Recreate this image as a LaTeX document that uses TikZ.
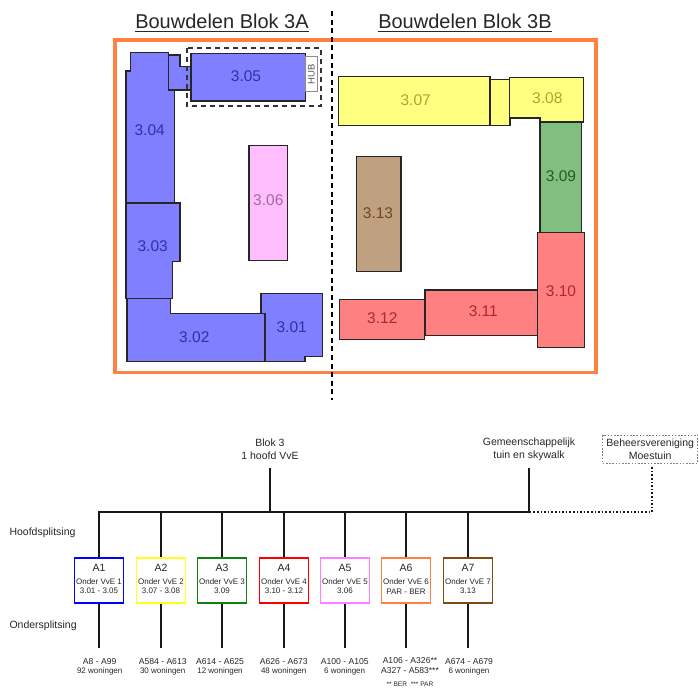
\documentclass[tikz,border=0pt]{standalone}
\usepackage{fontspec}
\setmainfont{Liberation Sans}
\usepackage{xcolor}
\usepackage{tikz}
\usetikzlibrary{positioning}
\definecolor{blokframe}{HTML}{FF8040}
\definecolor{bluefill}{HTML}{7F7FFF}
\definecolor{bluetext}{HTML}{3030A8}
\definecolor{yellowfill}{HTML}{FFFF80}
\definecolor{yellowtext}{HTML}{A8A830}
\definecolor{pinkfill}{HTML}{FFBFFF}
\definecolor{pinktext}{HTML}{A868A8}
\definecolor{greenfill}{HTML}{80BF80}
\definecolor{greentext}{HTML}{1F5F1F}
\definecolor{redfill}{HTML}{FF8080}
\definecolor{redtext}{HTML}{B02828}
\definecolor{brownfill}{HTML}{BFA080}
\definecolor{browntext}{HTML}{704818}
\definecolor{boxyellow}{HTML}{FFFF20}
\definecolor{boxgreen}{HTML}{108010}
\definecolor{boxpink}{HTML}{FF80FF}
\definecolor{boxbrown}{HTML}{804A14}
\definecolor{treetext}{HTML}{262626}
\tikzset{
  part/.style    = {draw=black!85, line width=1.2pt, line join=miter},
  partnr/.style  = {inner sep=0pt, font=\fontsize{15.5}{18}\selectfont},
  blokkop/.style = {inner sep=0pt, font=\fontsize{20}{22}\selectfont, text=black!85},
  treelab/.style = {inner sep=0pt, align=center, text=treetext, font=\fontsize{10.5}{12.7}\selectfont, minimum height=36pt},
  sidelab/.style = {inner sep=0pt, anchor=west, text=treetext, font=\fontsize{10.5}{12.7}\selectfont},
  vve/.style     = {draw, line width=1.7pt, minimum width=49pt, minimum height=45.5pt, inner sep=0pt},
  vvelab/.style  = {inner sep=0pt, align=center, text=treetext, font=\fontsize{8}{9.4}\selectfont},
  vvekop/.style  = {inner sep=0pt, text=treetext, font=\fontsize{10.5}{12}\selectfont},
  woning/.style  = {inner sep=0pt, align=center, text=treetext, font=\fontsize{8.6}{9.4}\selectfont},
  tak/.style     = {line width=1.5pt, black!90},
}
\begin{document}
\begin{tikzpicture}[x=1pt, y=-1pt]
  \useasboundingbox (0,0) rectangle (699,688);

  % Titles
  \node[blokkop] (kopA) at (222,21.5) {Bouwdelen Blok 3A};
  \node[blokkop] (kopB) at (465,21.5) {Bouwdelen Blok 3B};
  \draw[line width=1pt, black!85] (kopA.west |- 0,31.5) -- (kopA.east |- 0,31.5);
  \draw[line width=1pt, black!85] (kopB.west |- 0,31.5) -- (kopB.east |- 0,31.5);

  % Frame and divider
  \draw[blokframe, line width=3.4pt] (115,40) rectangle (596,372.7);
  \draw[black, line width=2pt, dash pattern=on 5pt off 3.6pt] (331.5,11) -- (331.5,400);

  % Blok 3A
  \draw[part, fill=bluefill] (126,71) -- (130.7,71) -- (130.7,52.7) -- (168.3,52.7) -- (168.3,90) -- (174.3,90) -- (174.3,203) -- (126,203) -- cycle;
  \draw[part, fill=bluefill] (168.3,55) -- (180,55) -- (180,66.7) -- (191,66.7) -- (191,90) -- (168.3,90) -- cycle;
  \draw[part, fill=bluefill] (191,53.3) rectangle (305.7,101);
  \draw[draw=black!45, line width=1pt, fill=white] (305.7,56.7) rectangle (317,91);
  \node[inner sep=0pt, rotate=90, text=black!65, font=\fontsize{9.5}{10}\selectfont] (hub) at (311.3,74) {HUB};
  \draw[black!80, line width=1.8pt, dash pattern=on 5.5pt off 3.5pt] (186.7,47.7) rectangle (321,105.7);
  \draw[part, fill=pinkfill] (249,145.7) rectangle (287.7,260.7);
  \draw[part, fill=bluefill] (126,203) -- (180,203) -- (180,261.3) -- (172.7,261.3) -- (172.7,298.3) -- (126,298.3) -- cycle;
  \draw[part, fill=bluefill] (261,293.3) -- (322.7,293.3) -- (322.7,356.3) -- (305,356.3) -- (305,361.7) -- (261,361.7) -- cycle;
  \draw[part, fill=bluefill] (127,298.3) -- (170.7,298.3) -- (170.7,313.7) -- (265,313.7) -- (265,361.7) -- (127,361.7) -- cycle;

  \node[partnr, text=bluetext] (nr01) at (291.7,326.7) {3.01};
  \node[partnr, text=bluetext] (nr02) at (194.3,336.7) {3.02};
  \node[partnr, text=bluetext] (nr03) at (152.7,245.7) {3.03};
  \node[partnr, text=bluetext] (nr04) at (149.7,130) {3.04};
  \node[partnr, text=bluetext] (nr05) at (246,76) {3.05};
  \node[partnr, text=pinktext] (nr06) at (268.3,200) {3.06};

  % Blok 3B
  \draw[part, fill=yellowfill] (490,79.3) rectangle (510,125.3);
  \draw[part, fill=yellowfill] (338.3,76.7) rectangle (490,125.3);
  \draw[part, fill=greenfill] (540,122) rectangle (581.7,232.7);
  \draw[part, fill=yellowfill] (509.3,77.3) -- (583.7,77.3) -- (583.7,122) -- (540,122) -- (540,118) -- (509.3,118) -- cycle;
  \draw[part, fill=brownfill] (356.7,156.7) rectangle (401,271.3);
  \draw[part, fill=redfill] (425,290) rectangle (537.3,335.3);
  \draw[part, fill=redfill] (339.3,299.3) rectangle (424.7,339.3);
  \draw[part, fill=redfill] (537.3,232.7) rectangle (584.7,347.3);

  \node[partnr, text=yellowtext] (nr07) at (415.7,100) {3.07};
  \node[partnr, text=yellowtext] (nr08) at (547.3,97.7) {3.08};
  \node[partnr, text=greentext] (nr09) at (561,176) {3.09};
  \node[partnr, text=redtext] (nr10) at (561,290.7) {3.10};
  \node[partnr, text=redtext] (nr11) at (483.3,311) {3.11};
  \node[partnr, text=redtext] (nr12) at (382.3,318.3) {3.12};
  \node[partnr, text=browntext] (nr13) at (378,213.3) {3.13};

  % Top of the tree
  \node[treelab] (blok) at (270,449.3) {Blok 3\\1 hoofd VvE};
  \node[treelab] (tuin) at (529,449.3) {Gemeenschappelijk\\tuin en skywalk};
  \node[treelab, draw=black!50, dash pattern=on 1.6pt off 1.6pt, line width=0.8pt, minimum width=95pt, minimum height=27.7pt] (moes) at (650.2,449.2) {Beheersvereniging\\Moestuin};
  \coordinate (busL) at (98.3,512);
  \coordinate (busB) at (270,512);
  \coordinate (busR) at (529.7,512);
  \coordinate (busM) at (652,512);
  \coordinate (moesvoet) at (652,467.3);

  \node[sidelab] (hoofd) at (9.3,533) {Hoofdsplitsing};
  \node[sidelab] (onder) at (9.3,626) {Ondersplitsing};

  % Onder VvE boxes
  \node[vve, draw=blue] (a1) at (99,580.5) {};
  \node[vve, draw=boxyellow] (a2) at (161,580.5) {};
  \node[vve, draw=boxgreen] (a3) at (222,580.5) {};
  \node[vve, draw=red] (a4) at (284,580.5) {};
  \node[vve, draw=boxpink] (a5) at (345,580.5) {};
  \node[vve, draw=blokframe] (a6) at (406,580.5) {};
  \node[vve, draw=boxbrown] (a7) at (468,580.5) {};

  \node[vvekop] (k1) at (99,568.3) {A1};
  \node[vvekop] (k2) at (161,568.3) {A2};
  \node[vvekop] (k3) at (222,568.3) {A3};
  \node[vvekop] (k4) at (284,568.3) {A4};
  \node[vvekop] (k5) at (345,568.3) {A5};
  \node[vvekop] (k6) at (406,568.3) {A6};
  \node[vvekop] (k7) at (468,568.3) {A7};

  \node[vvelab] (t1) at (99,586.4) {Onder VvE 1\\3.01 - 3.05};
  \node[vvelab] (t2) at (161,586.4) {Onder VvE 2\\3.07 - 3.08};
  \node[vvelab] (t3) at (222,586.4) {Onder VvE 3\\3.09};
  \node[vvelab] (t4) at (284,586.4) {Onder VvE 4\\3.10 - 3.12};
  \node[vvelab] (t5) at (345,586.4) {Onder VvE 5\\3.06};
  \node[vvelab] (t6) at (406,586.4) {Onder VvE 6\\PAR - BER};
  \node[vvelab] (t7) at (468,586.4) {Onder VvE 7\\3.13};

  % Ondersplitsing
  \coordinate (v1) at (99,648.3);
  \coordinate (v2) at (161,648.3);
  \coordinate (v3) at (222,648.3);
  \coordinate (v4) at (284,648.3);
  \coordinate (v5) at (345,648.3);
  \coordinate (v6) at (406,648.3);
  \coordinate (v7) at (468,648.3);

  \node[woning] (w1) at (99.7,666.7) {A8 - A99\\\fontsize{8}{9.4}\selectfont 92 woningen};
  \node[woning] (w2) at (162.7,666.7) {A584 - A613\\\fontsize{8}{9.4}\selectfont 30 woningen};
  \node[woning] (w3) at (220,666.7) {A614 - A625\\\fontsize{8}{9.4}\selectfont 12 woningen};
  \node[woning] (w4) at (283.7,666.7) {A626 - A673\\\fontsize{8}{9.4}\selectfont 48 woningen};
  \node[woning] (w5) at (344.7,666.7) {A100 - A105\\\fontsize{8}{9.4}\selectfont 6 woningen};
  \node[woning] (w6) at (410,665.2) {A106 - A326**\\[0.4pt]A327 - A583***};
  \node[woning] (w7) at (469,666.7) {A674 - A679\\\fontsize{8}{9.4}\selectfont 6 woningen};
  \node[vvelab, font=\fontsize{6.6}{8}\selectfont] (noot) at (410,684) {** BER~~*** PAR};

  % Connectors
  \draw[tak] (blok.south) -- (busB);
  \draw[tak] (tuin.south) -- (tuin.south |- busR);
  \draw[tak] (busL) -- (busR);
  \draw[line width=1.6pt, black!90, dotted] (busR) -- (busM) -- (moesvoet);
  \draw[tak] (a1.north |- busL) -- (a1.north);
  \draw[tak] (a2.north |- busL) -- (a2.north);
  \draw[tak] (a3.north |- busL) -- (a3.north);
  \draw[tak] (a4.north |- busL) -- (a4.north);
  \draw[tak] (a5.north |- busL) -- (a5.north);
  \draw[tak] (a6.north |- busL) -- (a6.north);
  \draw[tak] (a7.north |- busL) -- (a7.north);
  \draw[tak] (a1.south) -- (v1);
  \draw[tak] (a2.south) -- (v2);
  \draw[tak] (a3.south) -- (v3);
  \draw[tak] (a4.south) -- (v4);
  \draw[tak] (a5.south) -- (v5);
  \draw[tak] (a6.south) -- (v6);
  \draw[tak] (a7.south) -- (v7);

\end{tikzpicture}
\end{document}
